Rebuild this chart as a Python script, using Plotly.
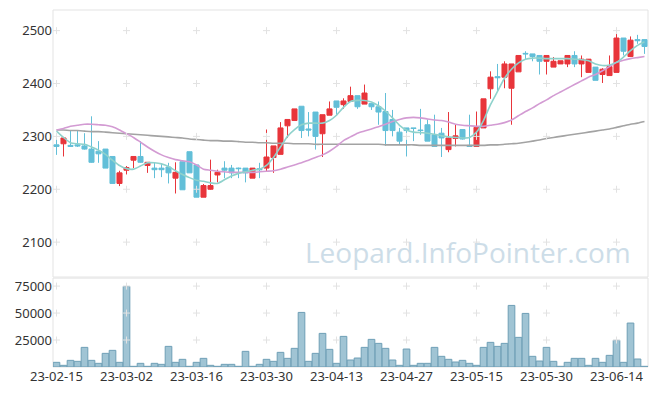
import plotly.graph_objects as go

dates = [
    "23-02-15", "23-02-16", "23-02-17", "23-02-20", "23-02-21", "23-02-22", "23-02-23", "23-02-24", "23-02-27", "23-02-28",
    "23-03-02", "23-03-03", "23-03-06", "23-03-07", "23-03-08", "23-03-09", "23-03-10", "23-03-13", "23-03-14", "23-03-15",
    "23-03-16", "23-03-17", "23-03-20", "23-03-21", "23-03-22", "23-03-23", "23-03-24", "23-03-27", "23-03-28", "23-03-29",
    "23-03-30", "23-03-31", "23-04-03", "23-04-04", "23-04-05", "23-04-06", "23-04-07", "23-04-10", "23-04-11", "23-04-12",
    "23-04-13", "23-04-14", "23-04-17", "23-04-18", "23-04-19", "23-04-20", "23-04-21", "23-04-24", "23-04-25", "23-04-26",
    "23-04-27", "23-04-28", "23-05-02", "23-05-03", "23-05-04", "23-05-08", "23-05-09", "23-05-10", "23-05-11", "23-05-12",
    "23-05-15", "23-05-16", "23-05-17", "23-05-18", "23-05-19", "23-05-22", "23-05-23", "23-05-24", "23-05-25", "23-05-26",
    "23-05-30", "23-05-31", "23-06-01", "23-06-02", "23-06-05", "23-06-07", "23-06-08", "23-06-09", "23-06-12", "23-06-13",
    "23-06-14", "23-06-15", "23-06-16", "23-06-19", "23-06-20",
]

open_ = [2284, 2286, 2283, 2284, 2282, 2276, 2272, 2276, 2262, 2211,
         2236, 2255, 2262, 2245, 2240, 2240, 2242, 2221, 2252, 2271,
         2246, 2185, 2200, 2227, 2240, 2240, 2240, 2240, 2221, 2239,
         2240, 2260, 2266, 2320, 2330, 2357, 2314, 2346, 2305, 2340,
         2367, 2360, 2366, 2377, 2361, 2362, 2356, 2347, 2332, 2308,
         2316, 2316, 2312, 2322, 2303, 2306, 2275, 2296, 2313, 2283,
         2281, 2316, 2390, 2413, 2412, 2391, 2422, 2457, 2456, 2453,
         2442, 2431, 2437, 2437, 2453, 2437, 2421, 2431, 2417, 2415,
         2421, 2486, 2451, 2483, 2483]
high = [2300, 2298, 2311, 2311, 2306, 2338, 2291, 2276, 2262, 2235,
        2244, 2262, 2291, 2251, 2250, 2248, 2250, 2251, 2252, 2271,
        2246, 2210, 2256, 2237, 2253, 2246, 2241, 2240, 2240, 2250,
        2313, 2282, 2327, 2332, 2352, 2357, 2346, 2346, 2341, 2366,
        2367, 2372, 2394, 2377, 2398, 2362, 2366, 2382, 2350, 2316,
        2316, 2316, 2352, 2332, 2341, 2316, 2346, 2322, 2313, 2341,
        2347, 2371, 2423, 2437, 2442, 2437, 2453, 2461, 2456, 2453,
        2453, 2450, 2443, 2453, 2461, 2453, 2446, 2431, 2429, 2453,
        2502, 2486, 2489, 2492, 2483]
low = [2265, 2262, 2280, 2280, 2275, 2250, 2250, 2240, 2211, 2206,
       2228, 2240, 2250, 2231, 2221, 2223, 2211, 2192, 2199, 2231,
       2185, 2185, 2199, 2213, 2221, 2221, 2221, 2213, 2221, 2221,
       2234, 2231, 2266, 2297, 2330, 2297, 2300, 2275, 2261, 2340,
       2341, 2352, 2366, 2352, 2361, 2350, 2322, 2282, 2300, 2284,
       2262, 2291, 2303, 2291, 2281, 2261, 2270, 2281, 2294, 2281,
       2281, 2316, 2371, 2387, 2391, 2322, 2422, 2446, 2442, 2417,
       2417, 2431, 2437, 2431, 2431, 2412, 2421, 2406, 2401, 2415,
       2421, 2453, 2451, 2475, 2456]
close = [2281, 2297, 2281, 2282, 2276, 2251, 2267, 2240, 2211, 2231,
         2241, 2262, 2251, 2251, 2237, 2237, 2231, 2232, 2199, 2231,
         2185, 2207, 2207, 2232, 2236, 2231, 2239, 2231, 2240, 2237,
         2261, 2282, 2316, 2332, 2352, 2311, 2312, 2300, 2341, 2352,
         2355, 2367, 2377, 2356, 2382, 2356, 2346, 2311, 2311, 2291,
         2311, 2315, 2311, 2291, 2281, 2297, 2297, 2301, 2295, 2281,
         2317, 2371, 2412, 2411, 2437, 2437, 2453, 2456, 2451, 2442,
         2453, 2442, 2443, 2453, 2437, 2446, 2446, 2406, 2427, 2432,
         2486, 2461, 2482, 2481, 2470]

ma_short = [2310, 2298, 2288, 2286, 2285, 2280, 2274, 2266, 2255, 2245,
            2239, 2238, 2244, 2250, 2250, 2248, 2243, 2235, 2228, 2222,
            2217, 2215, 2212, 2211, 2218, 2225, 2230, 2233, 2236, 2238,
            2245, 2260, 2280, 2300, 2313, 2322, 2325, 2325, 2325, 2330,
            2340, 2355, 2366, 2368, 2368, 2365, 2358, 2348, 2335, 2321,
            2312, 2308, 2307, 2306, 2304, 2301, 2299, 2298, 2297, 2298,
            2308, 2330, 2360, 2385, 2410, 2427, 2439, 2446, 2448, 2448,
            2447, 2447, 2447, 2447, 2446, 2445, 2443, 2437, 2434, 2435,
            2440, 2450, 2462, 2472, 2479]
ma_mid = [2312, 2315, 2319, 2321, 2323, 2323, 2322, 2321, 2318, 2312,
          2305, 2298, 2289, 2280, 2272, 2265, 2260, 2256, 2254, 2252,
          2246, 2238, 2236, 2234, 2233, 2232, 2232, 2232, 2232, 2233,
          2234, 2235, 2238, 2242, 2246, 2250, 2255, 2260, 2265, 2272,
          2281, 2292, 2299, 2306, 2310, 2314, 2318, 2323, 2328, 2332,
          2335, 2336, 2335, 2333, 2331, 2330, 2327, 2323, 2321, 2320,
          2319, 2319, 2321, 2323, 2326, 2331, 2339, 2347, 2354, 2362,
          2369, 2377, 2384, 2391, 2398, 2405, 2412, 2417, 2424, 2432,
          2440, 2444, 2447, 2449, 2451]
ma_long = [2312, 2312, 2311, 2311, 2310, 2309, 2309, 2308, 2307, 2306,
           2305, 2304, 2303, 2302, 2301, 2300, 2299, 2298, 2297, 2295,
           2294, 2293, 2292, 2292, 2291, 2291, 2290, 2289, 2289, 2288,
           2288, 2287, 2287, 2287, 2286, 2286, 2286, 2285, 2285, 2285,
           2285, 2285, 2285, 2285, 2285, 2285, 2285, 2284, 2284, 2284,
           2284, 2284, 2283, 2283, 2283, 2283, 2283, 2283, 2283, 2283,
           2283, 2283, 2284, 2284, 2285, 2286, 2287, 2289, 2291, 2293,
           2296, 2298, 2300, 2302, 2304, 2306, 2308, 2310, 2312, 2314,
           2317, 2320, 2323, 2325, 2328]

volume = [4320, 1540, 6170, 5250, 18200, 6170, 3400, 12650, 15430, 4320,
          74680, 620, 3400, 620, 3400, 2470, 19130, 4320, 7100, 620,
          4320, 8020, 1540, 620, 2470, 2470, 620, 14500, 620, 2470,
          7100, 5250, 13580, 8020, 17280, 50600, 5250, 12650, 31170, 16360,
          3400, 28390, 6480, 8330, 18200, 25610, 21910, 17280, 6480, 1540,
          16660, 1540, 3400, 3400, 18200, 9880, 7100, 4630, 6170, 3400,
          1540, 18200, 22840, 19130, 21910, 57090, 27470, 49680, 9880, 5550,
          18200, 5250, 620, 4320, 8020, 8020, 1540, 8020, 4320, 10800,
          24690, 4320, 40740, 7410, 620]

x_tick_idx = [0, 10, 20, 30, 40, 50, 60, 70, 80]
price_ticks = [2100, 2200, 2300, 2400, 2500]
vol_ticks = [25000, 50000, 75000]

RED = "#e8353b"
BLUE = "#63bfd8"
FONT = "Noto Sans"

tick_dates = [dates[i] for i in x_tick_idx]

fig = go.Figure()

for vals, col in [(ma_long, "#a3a3a3"), (ma_mid, "#d39bd3"), (ma_short, "#8fd2cc")]:
    fig.add_trace(go.Scatter(x=dates, y=vals, mode="lines", yaxis="y", xaxis="x",
                             line=dict(color=col, width=1.6, shape="spline", smoothing=0.6),
                             hoverinfo="skip", showlegend=False))

fig.add_trace(go.Candlestick(x=dates, open=open_, high=high, low=low, close=close,
                             xaxis="x", yaxis="y", whiskerwidth=0,
                             increasing=dict(line=dict(color=RED, width=1), fillcolor=RED),
                             decreasing=dict(line=dict(color=BLUE, width=1), fillcolor=BLUE),
                             hoverinfo="skip", showlegend=False))

fig.add_trace(go.Bar(x=dates, y=volume, xaxis="x", yaxis="y2",
                     marker=dict(color="#a0c4d4", line=dict(color="#6e9fb6", width=1)),
                     hoverinfo="skip", showlegend=False))

# faint grid crosses at tick intersections
gx, gy = [], []
for d in tick_dates:
    for p in price_ticks:
        gx.append(d); gy.append(p)
fig.add_trace(go.Scatter(x=gx, y=gy, mode="markers", yaxis="y", xaxis="x",
                         marker=dict(symbol="cross-thin", size=5, line=dict(color="#e2e2e2", width=1)),
                         hoverinfo="skip", showlegend=False))
vx, vy = [], []
for d in tick_dates:
    for v in vol_ticks:
        vx.append(d); vy.append(v)
fig.add_trace(go.Scatter(x=vx, y=vy, mode="markers", yaxis="y2", xaxis="x",
                         marker=dict(symbol="cross-thin", size=5, line=dict(color="#e2e2e2", width=1)),
                         hoverinfo="skip", showlegend=False))

fig.add_annotation(text="Leopard.InfoPointer.com", xref="paper", yref="paper",
                   x=0.697, y=0.322, xanchor="center", yanchor="middle", showarrow=False,
                   font=dict(family="Open Sans", size=28, color="#cddde8"))

for yr in ["y domain", "y2 domain"]:
    fig.add_shape(type="rect", xref="x domain", yref=yr, x0=0, x1=1, y0=0, y1=1,
                  line=dict(color="#e3e3e3", width=1), layer="below")

# page body adds an 8px offset; size the figure so the plot lands where the reference has it
fig.update_layout(
    width=649, height=388,
    margin=dict(l=45, r=9, t=2, b=29),
    paper_bgcolor="white", plot_bgcolor="white",
    font=dict(family=FONT, size=13, color="#333333"),
    boxgap=0.28, boxgroupgap=0, bargap=0.05,
    xaxis=dict(type="category", categoryorder="array", categoryarray=dates,
               range=[-0.5, 84.5], anchor="y2", automargin=False,
               tickvals=tick_dates, ticktext=tick_dates, tickangle=0,
               showgrid=False, zeroline=False, showline=False, ticks="",
               rangeslider=dict(visible=False), tickfont=dict(size=13, color="#333333")),
    yaxis=dict(domain=[0.252, 1], range=[2034, 2539], tickvals=price_ticks,
               ticktext=[str(v) for v in price_ticks], automargin=False,
               showgrid=False, zeroline=False, ticks="", tickfont=dict(size=13, color="#333333")),
    yaxis2=dict(domain=[0, 0.249], range=[0, 82400], tickvals=vol_ticks,
                ticktext=[str(v) for v in vol_ticks], automargin=False,
                showgrid=False, zeroline=False, ticks="", tickfont=dict(size=13, color="#333333")),
)

fig.write_html("out.html")
